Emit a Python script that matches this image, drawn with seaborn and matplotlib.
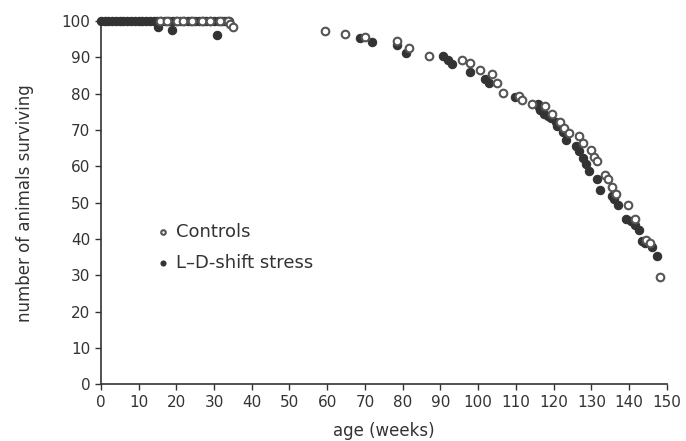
import pandas as pd
import matplotlib
matplotlib.use("Agg")
import matplotlib.pyplot as plt
import seaborn as sns

# controls (open circles)
ctrl_weeks = [15.7, 17.5, 20.2, 21.8, 24.2, 26.8, 28.9, 31.5, 33.7, 34.3, 34.9,
              59.5, 64.7, 69.9, 78.6, 81.8, 86.9, 95.8, 97.9, 100.6, 103.7, 104.9,
              106.5, 110.7, 111.6, 114.4, 117.8, 119.7, 121.8, 122.8, 124.0, 126.6,
              127.9, 129.9, 130.8, 131.6, 133.7, 134.5, 135.6, 136.5, 139.6, 141.6,
              144.4, 145.5, 148.2]
ctrl_alive = [100, 100, 100, 100, 100, 100, 100, 100, 100, 99.2, 98.3,
              97.4, 96.4, 95.6, 94.5, 92.5, 90.4, 89.4, 88.5, 86.5, 85.4, 83.0,
              80.1, 79.3, 78.2, 77.3, 76.6, 74.4, 72.3, 70.7, 69.2, 68.4,
              66.5, 64.5, 62.6, 61.4, 57.6, 56.4, 54.4, 52.5, 49.3, 45.6,
              39.7, 38.8, 29.6]

# L-D-shift stress (filled circles)
stress_weeks = [0, 1, 2, 3, 4, 5, 6, 7, 8, 9, 10, 11, 12, 13, 14, 15, 16, 17,
                18, 19, 20, 21, 22, 23, 24, 25, 26, 27, 28, 29, 30, 31, 32, 33, 34,
                15.1, 18.9, 30.7,
                68.6, 72.0, 78.6, 80.8, 90.8, 92.0, 93.0, 97.9, 101.7, 102.8, 109.9,
                115.8, 116.0, 116.5, 117.5, 118.5, 119.3, 120.6, 121.0, 122.6, 123.4,
                125.9, 126.6, 127.7, 128.6, 129.4, 131.5, 132.3, 135.4, 136.1, 137.2,
                139.3, 140.5, 141.6, 142.7, 143.4, 144.2, 146.0, 147.3]
stress_alive = [100, 100, 100, 100, 100, 100, 100, 100, 100, 100, 100, 100, 100,
                100, 100, 100, 100, 100, 100, 100, 100, 100, 100, 100, 100, 100,
                100, 100, 100, 100, 100, 100, 100, 100, 100,
                98.5, 97.6, 96.3,
                95.3, 94.3, 93.4, 91.1, 90.4, 89.3, 88.3, 86.0, 84.2, 83.0, 79.2,
                77.1, 76.3, 75.5, 74.4, 73.8, 73.2, 72.1, 71.2, 69.5, 67.2,
                65.6, 64.3, 62.3, 60.6, 58.7, 56.4, 53.4, 51.8, 50.9, 49.3,
                45.6, 45.0, 43.8, 42.4, 39.5, 38.9, 37.8, 35.3]

x_ticks = [0, 10, 20, 30, 40, 50, 60, 70, 80, 90, 100, 110, 120, 130, 140, 150]
y_ticks = [0, 10, 20, 30, 40, 50, 60, 70, 80, 90, 100]

sns.set_style("ticks")
plt.rcParams['font.family'] = ['DejaVu Sans']
ink = '#333333'

df_c = pd.DataFrame({'week': ctrl_weeks, 'alive': ctrl_alive})
df_s = pd.DataFrame({'week': stress_weeks, 'alive': stress_alive})

fig = plt.figure(figsize=(6.86, 4.41), dpi=100)
ax = fig.add_axes([0.147, 0.129, 0.825, 0.823])

sns.scatterplot(data=df_s, x='week', y='alive', ax=ax, marker='o', s=36,
                color=ink, edgecolor=ink, linewidth=0.8, label='L\u2013D-shift stress',
                clip_on=False, zorder=3)
sns.scatterplot(data=df_c, x='week', y='alive', ax=ax, marker='o', s=30,
                facecolor='white', edgecolor='#555555', linewidth=1.5, label='Controls',
                clip_on=False, zorder=4)

ax.set_xlim(0, 150)
ax.set_ylim(0, 100)
ax.set_xticks(x_ticks)
ax.set_yticks(y_ticks)
ax.tick_params(colors=ink, labelsize=11, length=4, width=1)
for lab in ax.get_xticklabels() + ax.get_yticklabels():
    lab.set_color(ink)
sns.despine(ax=ax)
for side in ['left', 'bottom']:
    ax.spines[side].set_color(ink)
    ax.spines[side].set_linewidth(1.2)

ax.set_xlabel('age (weeks)', fontsize=12, color=ink, labelpad=9)
ax.set_ylabel('number of animals surviving', fontsize=12, color=ink, labelpad=20)

handles, labels = ax.get_legend_handles_labels()
ax.legend(handles[::-1], labels[::-1], loc='upper left', bbox_to_anchor=(0.078, 0.465),
          frameon=False, fontsize=13, handletextpad=0.1, labelspacing=0.75,
          labelcolor=ink, borderaxespad=0, markerscale=0.6, handlelength=1.2)

fig.savefig('out.png', dpi=100)
